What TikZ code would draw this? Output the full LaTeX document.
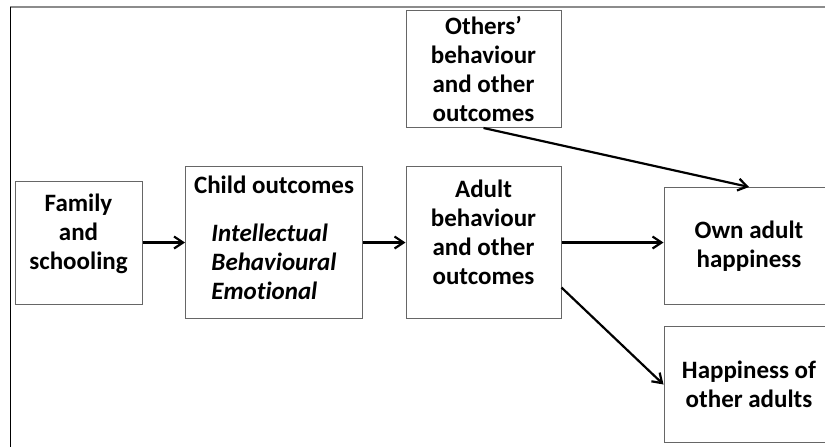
\documentclass[tikz,border=0pt]{standalone}
\usepackage{fontspec}
\setmainfont{Carlito}[Ligatures=NoCommon]
\usetikzlibrary{chains,positioning,arrows.meta}

\begin{document}
\begin{tikzpicture}[x=0.5pt, y=-0.5pt,
    box/.style={draw=black!60, line width=0.5pt, align=center,
      inner sep=0pt, font=\fontsize{12.5}{14.5}\selectfont\bfseries},
    >={Straight Barb[length=4.5pt,width=6pt]},
    link/.style={->, line width=1.1pt},
    start chain=going right, node distance=21.25pt]

  \clip (0,0) rectangle (825,446);
  \draw[black!45, line width=1pt] (10,7) -- (830,7);
  \draw[line width=0.5pt] (10.5,7) -- (10.5,450);

  \node[box, on chain, minimum width=63.5pt, minimum height=61.5pt] (family) at (78.5,242.5)
    {Family\\and\\schooling\\[-4pt]\mbox{}};
  \node[box, on chain, minimum width=88.5pt, minimum height=76pt] (child)
    {Child outcomes\\[9.5pt]\begin{tabular}[t]{@{}l@{}}\itshape Intellectual\\
     \itshape Behavioural\\ \itshape Emotional\end{tabular}};
  \node[box, on chain, minimum width=77.5pt, minimum height=76pt] (adult)
    {Adult\\behaviour\\and other\\outcomes\\[-4pt]\mbox{}};

  \node[box, above=19pt of adult, minimum width=77.5pt, minimum height=58.5pt] (others)
    {Others’\\behaviour\\and other\\outcomes};
  \node[box, right=51pt of adult, yshift=-1.75pt, minimum width=85pt, minimum height=58.5pt] (own)
    {Own adult\\happiness};
  \node[box, below=10.5pt of own, minimum width=85pt, minimum height=58pt] (happy)
    {Happiness of\\other adults};

  \draw[link] (family) -- (child);
  \draw[link] (child) -- (adult);
  \draw[link] (adult.east) -- (adult.east -| own.west);
  \draw[link] (adult.-30) -- (happy.west);
  \draw[link] (others.south) -- (own.north);

\end{tikzpicture}
\end{document}
